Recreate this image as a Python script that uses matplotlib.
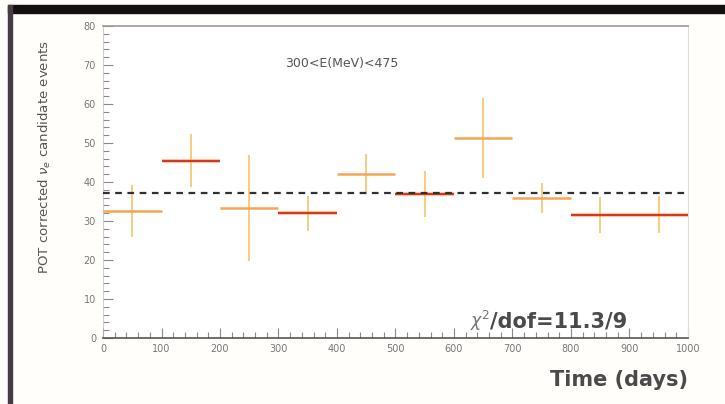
import numpy as np
import matplotlib
matplotlib.use("Agg")
import matplotlib.pyplot as plt
from matplotlib.ticker import MultipleLocator

# bin edges (days) and values
bin_lo = [0, 100, 200, 300, 400, 500, 600, 700, 800, 900]
bin_hi = [100, 200, 300, 400, 500, 600, 700, 800, 900, 1000]
events = [32.6, 45.4, 33.3, 32.0, 42.0, 37.0, 51.3, 35.9, 31.6, 31.6]
err = [6.7, 6.8, 13.5, 4.5, 5.2, 5.9, 10.3, 3.8, 4.6, 4.8]
is_red = [False, True, False, True, False, True, False, False, True, True]
mean_level = 37.2

x_ticks = [0, 100, 200, 300, 400, 500, 600, 700, 800, 900, 1000]
y_ticks = [0, 10, 20, 30, 40, 50, 60, 70, 80]

fig = plt.figure(figsize=(7.25, 4.04), dpi=100)
fig.patch.set_facecolor("#fffefb")

# slide frame bits (photo of a slide)
fig.patches.append(plt.Rectangle((8 / 725, 1 - 13 / 404), 1, 8 / 404,
                                 transform=fig.transFigure, color="#141010", zorder=0))
fig.patches.append(plt.Rectangle((8 / 725, 0), 4 / 725, 1 - 5 / 404,
                                 transform=fig.transFigure, color="#463a44", zorder=0))

ax = fig.add_axes([103 / 725, 1 - 338 / 404, 585 / 725, 312 / 404])
ax.set_facecolor("white")
ax.set_xlim(0, 1000)
ax.set_ylim(0, 80)

centers = [(a + b) / 2 for a, b in zip(bin_lo, bin_hi)]
for lo, hi, c, v, e, red in zip(bin_lo, bin_hi, centers, events, err, is_red):
    ax.vlines(c, v - e, v + e, color="#f7c46a", lw=1.2, zorder=2)
    if red:
        ax.hlines(v, lo, hi, color="#f6a060", lw=3, alpha=0.6, zorder=3)
        ax.hlines(v, lo, hi, color="#cc2a1c", lw=1.3, zorder=4)
    else:
        ax.hlines(v, lo, hi, color="#f5a553", lw=1.8, zorder=3)

ax.plot([0, 1000], [mean_level, mean_level], ls=(0, (3, 2.5)), color="#303030", lw=1.6, zorder=5)

ax.set_xticks(x_ticks)
ax.set_yticks(y_ticks)
ax.xaxis.set_minor_locator(MultipleLocator(20))
ax.yaxis.set_minor_locator(MultipleLocator(2))
ax.tick_params(which="both", direction="in", colors="#8a8a8a", labelcolor="#777777",
               labelsize=7, top=False, right=False, width=0.8)
ax.tick_params(which="major", length=7)
ax.tick_params(which="minor", length=4)
ax.tick_params(axis="x", pad=4)
ax.tick_params(axis="y", pad=5)

for side, col in [("bottom", "#555555"), ("top", "#999999"), ("left", "#bbbbbb"), ("right", "#e4dcd4")]:
    ax.spines[side].set_color(col)
ax.spines["bottom"].set_linewidth(1.2)
ax.spines["top"].set_linewidth(1.2)
ax.spines["left"].set_linewidth(0.5)

ax.set_ylabel(r"POT corrected $\nu_e$ candidate events", fontsize=9.6, color="#555555")
ax.yaxis.set_label_coords(-0.086, 0.58)

ax.text(408, 70.5, "300<E(MeV)<475", fontsize=9, color="#555555", ha="center", va="center")
chi = ax.text(897, 4.2, "/dof=11.3/9", fontsize=15, color="#4a4a4a", ha="right",
              va="center", fontweight="bold")
ax.annotate(r"$\chi^2$", xy=(0, 0.55), xycoords=chi, fontsize=12.5, color="#777777",
            ha="right", va="center")

fig.text(688 / 725, 1 - 380 / 404, "Time (days)", fontsize=15, color="#4a4a4a",
         ha="right", va="center", fontweight="bold")

fig.savefig("out.png", dpi=100, facecolor=fig.get_facecolor())
